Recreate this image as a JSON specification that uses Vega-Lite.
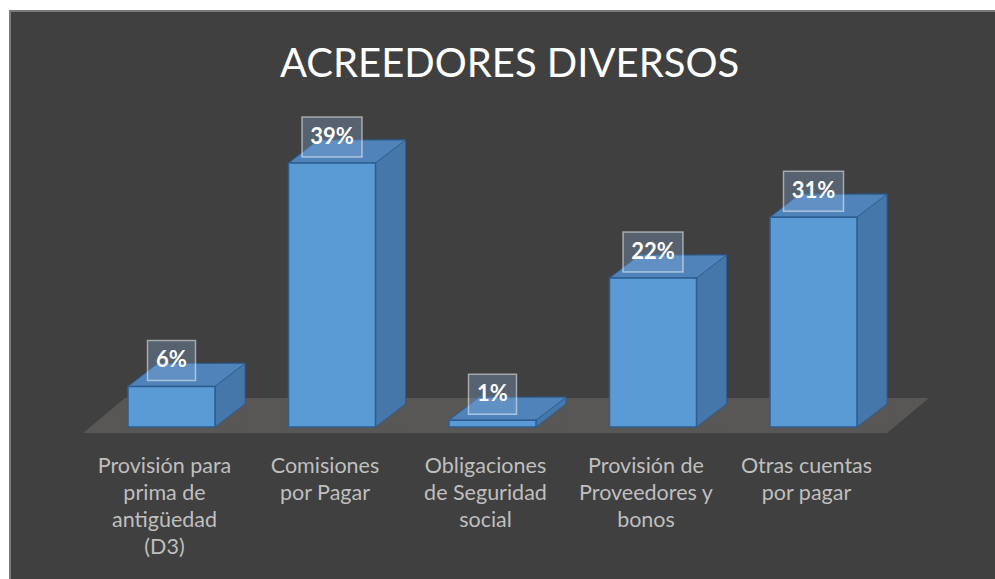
{
  "$schema": "https://vega.github.io/schema/vega-lite/v6.json",
  "width": 987,
  "height": 570,
  "padding": {"left": 10, "top": 11, "right": 0, "bottom": 0},
  "autosize": {"type": "none"},
  "background": "#ffffff",
  "config": {"view": {"fill": "#404040", "stroke": "#7a7a7a", "strokeWidth": 2}},
  "title": {"text": "ACREEDORES DIVERSOS", "font": "Lato", "fontSize": 40, "fontWeight": "normal", "color": "#ffffff", "anchor": "start", "frame": "group", "baseline": "alphabetic", "offset": -106, "dx": 270},
  "data": {"values": [
    {"cat": "Provisión para prima de antigüedad (D3)", "value": 0.06},
    {"cat": "Comisiones por Pagar", "value": 0.39},
    {"cat": "Obligaciones de Seguridad social", "value": 0.01},
    {"cat": "Provisión de Proveedores y bonos", "value": 0.22},
    {"cat": "Otras cuentas por pagar", "value": 0.31}
  ]},
  "encoding": {
    "x": {"field": "cat", "type": "nominal",
      "sort": ["Provisión para prima de antigüedad (D3)", "Comisiones por Pagar", "Obligaciones de Seguridad social", "Provisión de Proveedores y bonos", "Otras cuentas por pagar"],
      "scale": {"domain": ["Provisión para prima de antigüedad (D3)", "Comisiones por Pagar", "Obligaciones de Seguridad social", "Provisión de Proveedores y bonos", "Otras cuentas por pagar"], "range": [81.25, 883.75], "paddingInner": 0, "paddingOuter": 0},
      "axis": {"title": null, "orient": "bottom", "offset": -126, "domain": false, "ticks": false, "labelPadding": 0, "labelAngle": 0, "labelAlign": "center", "labelBaseline": "top", "labelLineHeight": 27, "labelColor": "#bfbfbf", "labelFont": "Lato", "labelFontSize": 21.5, "labelOffset": -7, "labelOverlap": false, "labelLimit": 300,
        "labelExpr": "datum.value == 'Provisión para prima de antigüedad (D3)' ? ['Provisión para', 'prima de', 'antigüedad', '(D3)'] : datum.value == 'Comisiones por Pagar' ? ['Comisiones', 'por Pagar'] : datum.value == 'Obligaciones de Seguridad social' ? ['Obligaciones', 'de Seguridad', 'social'] : datum.value == 'Provisión de Proveedores y bonos' ? ['Provisión de', 'Proveedores y', 'bonos'] : ['Otras cuentas', 'por pagar']"}
    }
  },
  "layer": [
    {
      "transform": [{"filter": "datum.cat == 'Obligaciones de Seguridad social'"}],
      "mark": {"type": "point", "shape": "M -409.5 6 L 394.5 6 L 436.5 -29 L -367.5 -29 Z", "size": 4, "filled": true, "fill": "#595755", "opacity": 1, "strokeWidth": 0},
      "encoding": {"y": {"datum": 0, "type": "quantitative", "scale": {"domain": [-0.22751, 0.61456], "nice": false, "zero": false}, "axis": null}}
    },
    {
      "mark": {"type": "bar", "width": 30, "xOffset": 58.5, "yOffset": -23, "fill": "#4677aa", "stroke": "#2d5d91", "strokeWidth": 1},
      "encoding": {"y": {"field": "value", "type": "quantitative"}, "y2": {"datum": 0}}
    },
    {
      "mark": {"type": "point", "shape": "M 43.5 0 L 43.5 1.5 L 75 1.5 L 75 -23 L 73.5 -23 Z", "size": 4, "filled": true, "fill": "#595755", "opacity": 1, "strokeWidth": 0},
      "encoding": {"y": {"datum": 0, "type": "quantitative"}}
    },
    {
      "mark": {"type": "point", "shape": "M 43.5 0 L 73.5 -23", "size": 4, "filled": false, "stroke": "#2d5d91", "strokeWidth": 1, "opacity": 1},
      "encoding": {"y": {"datum": 0, "type": "quantitative"}}
    },
    {
      "mark": {"type": "point", "shape": "M -43.5 0 L 43.5 0 L 73.5 -23 L -13.5 -23 Z", "size": 4, "filled": true, "fill": "#4f83b9", "stroke": "#2d5d91", "strokeWidth": 1, "opacity": 1},
      "encoding": {"y": {"field": "value", "type": "quantitative"}}
    },
    {
      "mark": {"type": "bar", "width": 87, "fill": "#5b9bd5", "stroke": "#2d5d91", "strokeWidth": 1.5},
      "encoding": {"y": {"field": "value", "type": "quantitative"}, "y2": {"datum": 0}}
    },
    {
      "mark": {"type": "point", "size": 4, "filled": true, "fill": "#8ab4de", "fillOpacity": 0.3, "stroke": "#ffffff", "strokeOpacity": 0.5, "strokeWidth": 1.5, "opacity": 1, "yOffset": -26},
      "encoding": {
        "y": {"field": "value", "type": "quantitative"},
        "shape": {"condition": {"test": "datum.value >= 0.1", "value": "M -30 -20 L 30 -20 L 30 20 L -30 20 Z"}, "value": "M -24 -20 L 24 -20 L 24 20 L -24 20 Z"}
      }
    },
    {
      "mark": {"type": "text", "font": "Lato", "fontSize": 22, "fontWeight": "bold", "color": "#ffffff", "fill": "#ffffff", "baseline": "middle", "align": "center", "yOffset": -26},
      "encoding": {
        "y": {"field": "value", "type": "quantitative"},
        "text": {"field": "value", "type": "quantitative", "format": ".0%"}
      }
    }
  ]
}
